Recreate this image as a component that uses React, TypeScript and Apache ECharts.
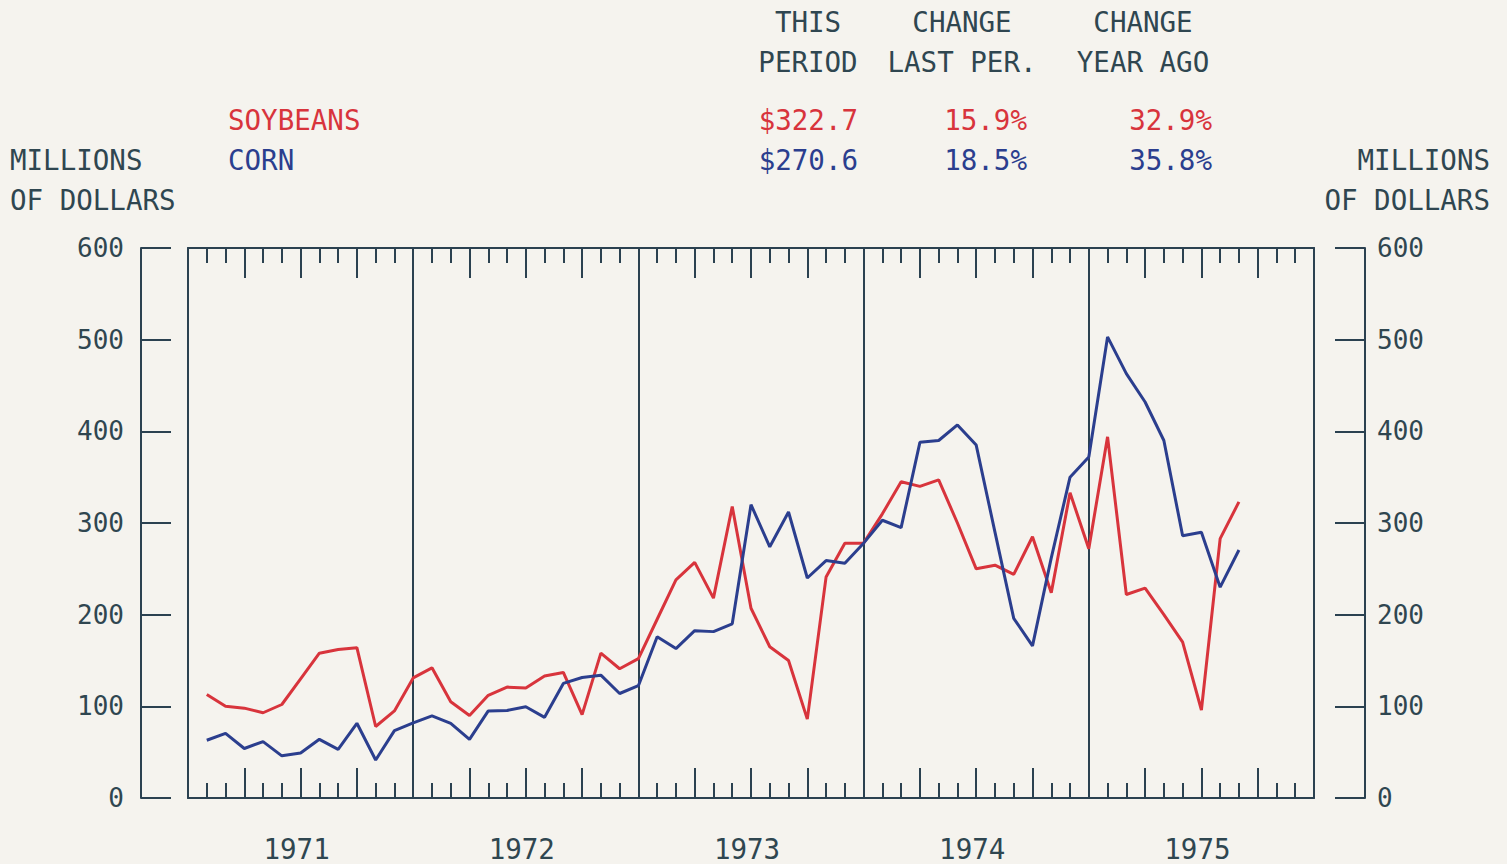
import React, { useEffect, useRef } from "react";
import * as echarts from "echarts";

// Monthly index: 1 = end of Jan 1971 ... 56 = end of Aug 1975
const years = ["1971", "1972", "1973", "1974", "1975"];
const yTicks = [0, 100, 200, 300, 400, 500, 600];

const soybeans = [
  113, 100, 98, 93, 102, 130, 158, 162, 164, 78, 95, 131,
  142, 105, 90, 112, 121, 120, 133, 137, 91, 158, 141, 152,
  195, 238, 257, 218, 318, 207, 165, 150, 86, 241, 278, 278,
  310, 345, 340, 347, 300, 250, 254, 244, 285, 224, 333, 272,
  394, 222, 229, 200, 170, 96, 283, 323,
];
const corn = [
  63, 70.5, 54, 61.5, 46, 49, 64, 53, 81.5, 41.5, 73.5, 82,
  89.5, 81.5, 64, 95, 95.5, 99.5, 88, 125, 131.5, 134, 114, 122.5,
  176, 163, 182.5, 181.5, 190, 320, 274, 312, 240, 259, 256, 278,
  303, 295, 388, 390, 407, 385, 290, 196, 166, 262, 350, 372,
  503, 463, 432, 390, 286, 290, 230, 270.6,
];

const headerCols = [
  { top: "THIS", bottom: "PERIOD", cx: 808 },
  { top: "CHANGE", bottom: "LAST PER.", cx: 962 },
  { top: "CHANGE", bottom: "YEAR AGO", cx: 1143 },
];
const soyStats = ["$322.7", "15.9%", "32.9%"];
const cornStats = ["$270.6", "18.5%", "35.8%"];
const statRight = [858, 1027, 1212];

const AXIS = "#2b4150";
const TEXT = "#2f4650";
const RED = "#d8343c";
const BLUE = "#2b3e8e";
const BG = "#f5f3ee";
const FONT = '"DejaVu Sans Mono", monospace';

export default function App() {
  const ref = useRef<HTMLDivElement>(null);
  useEffect(() => {
    if (!ref.current) return;
    const chart = echarts.init(ref.current, undefined, { renderer: "svg" });
    const lineStyle = { color: AXIS, width: 2 };
    const hidden = { show: false };
    const noLine = { show: false, onZero: false };
    const xBase = { type: "value", min: 0, max: 60, splitLine: hidden, axisLabel: hidden };
    const yBase = { type: "value", min: yTicks[0], max: yTicks[yTicks.length - 1], interval: 100, splitLine: hidden };
    const txt = (text: string, x: number, y: number, fill: string, align: string, size = 27.5) => ({
      type: "text",
      x,
      y,
      silent: true,
      style: { text, fill, fontSize: size, fontFamily: FONT, textAlign: align, textVerticalAlign: "middle" },
    });
    const graphics: any[] = [];
    headerCols.forEach((c) => {
      graphics.push(txt(c.top, c.cx, 22, TEXT, "center"));
      graphics.push(txt(c.bottom, c.cx, 62, TEXT, "center"));
    });
    soyStats.forEach((s, i) => graphics.push(txt(s, statRight[i], 120, RED, "right")));
    cornStats.forEach((s, i) => graphics.push(txt(s, statRight[i], 160, BLUE, "right")));
    graphics.push(txt("SOYBEANS", 228, 120, RED, "left"));
    graphics.push(txt("CORN", 228, 160, BLUE, "left"));
    graphics.push(txt("MILLIONS", 10, 160, TEXT, "left"));
    graphics.push(txt("OF DOLLARS", 10, 200, TEXT, "left"));
    graphics.push(txt("MILLIONS", 1490, 160, TEXT, "right"));
    graphics.push(txt("OF DOLLARS", 1490, 200, TEXT, "right"));

    const yLabel = { color: TEXT, fontSize: 26, fontFamily: FONT };
    const g = { left: 188, right: 193, top: 248, bottom: 66 };
    chart.setOption({
      animation: false,
      backgroundColor: BG,
      grid: [g, g, g],
      graphic: graphics,
      xAxis: [
        // grid 0: frame + monthly ticks
        { ...xBase, gridIndex: 0, position: "bottom", interval: 1, axisLine: { show: true, onZero: false, lineStyle }, axisTick: { show: true, inside: true, length: 15, lineStyle } },
        { ...xBase, gridIndex: 0, position: "top", interval: 1, axisLine: { show: true, onZero: false, lineStyle }, axisTick: { show: true, inside: true, length: 15, lineStyle } },
        // grid 1: quarterly ticks
        { ...xBase, gridIndex: 1, position: "bottom", interval: 3, axisLine: noLine, axisTick: { show: true, inside: true, length: 30, lineStyle } },
        { ...xBase, gridIndex: 1, position: "top", interval: 3, axisLine: noLine, axisTick: { show: true, inside: true, length: 30, lineStyle } },
        // grid 2: year labels + year dividers
        {
          ...xBase,
          gridIndex: 2,
          position: "bottom",
          interval: 6,
          axisLine: noLine,
          axisTick: hidden,
          axisLabel: {
            show: true,
            margin: 37,
            color: TEXT,
            fontSize: 27.5,
            fontFamily: FONT,
            padding: [0, 8, 0, 0],
            formatter: (v: number) => ((v - 6) % 12 === 0 ? years[(v - 6) / 12] || "" : ""),
          },
        },
        { ...xBase, gridIndex: 2, position: "top", interval: 12, axisLine: noLine, axisTick: hidden, splitLine: { show: true, lineStyle } },
      ],
      yAxis: [
        // grid 0 frame sides
        { ...yBase, gridIndex: 0, position: "left", axisLine: { show: true, onZero: false, lineStyle }, axisTick: hidden, axisLabel: hidden },
        { ...yBase, gridIndex: 0, position: "right", axisLine: { show: true, onZero: false, lineStyle }, axisTick: hidden, axisLabel: hidden },
        // grid 1 outer value axes
        {
          ...yBase, gridIndex: 1, position: "left", offset: 47,
          axisLine: { show: true, onZero: false, lineStyle },
          axisTick: { show: true, inside: true, length: 30, lineStyle },
          axisLabel: { ...yLabel, margin: 17 },
        },
        {
          ...yBase, gridIndex: 1, position: "right", offset: 51,
          axisLine: { show: true, onZero: false, lineStyle },
          axisTick: { show: true, inside: true, length: 30, lineStyle },
          axisLabel: { ...yLabel, margin: 12 },
        },
        // grid 2 hidden
        { ...yBase, gridIndex: 2, show: false },
      ],
      series: [
        {
          name: "SOYBEANS",
          type: "line",
          xAxisIndex: 0,
          yAxisIndex: 0,
          showSymbol: false,
          data: soybeans.map((v, i) => [i + 1, v]),
          lineStyle: { color: RED, width: 3 },
          itemStyle: { color: RED },
        },
        {
          name: "CORN",
          type: "line",
          xAxisIndex: 0,
          yAxisIndex: 0,
          showSymbol: false,
          data: corn.map((v, i) => [i + 1, v]),
          lineStyle: { color: BLUE, width: 3 },
          itemStyle: { color: BLUE },
        },
      ],
    });
    return () => chart.dispose();
  }, []);
  return (
    <div
      ref={ref}
      style={{ position: "absolute", left: 0, top: 0, width: 1507, height: 864, background: BG }}
    />
  );
}
